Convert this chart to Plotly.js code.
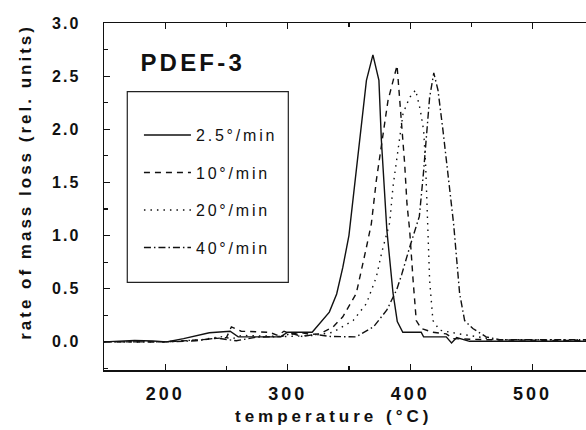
<!DOCTYPE html>
<html>
<head>
<meta charset="utf-8">
<script src="https://cdn.plot.ly/plotly-3.0.1.min.js"></script>
<style>
html,body{margin:0;padding:0;background:#fff;overflow:hidden;}
#chart{width:586px;height:430px;}
.xtick text{letter-spacing:3px;}
.ytick text{letter-spacing:2px;}
.legendtext{letter-spacing:2.8px;}
g.annotation[data-index="0"] text{letter-spacing:3.2px;}
g.annotation[data-index="1"] text{letter-spacing:4px;}
g.annotation[data-index="2"] text{letter-spacing:3px;}
</style>
</head>
<body>
<div id="chart"></div>
<script>
// temperature (°C) and rate of mass loss (rel. units)
const x_2_5 = [150,165,175,190,201,215,236,253,259.6,294,300,320,334,340,345,350,357,364.3,369.6,374.5,376.5,378.6,381,386,389.5,394,409,411,429.5,433.8,438,448.5,550];
const y_2_5 = [0.0,0.005,0.012,0.008,0.0,0.03,0.085,0.10,0.047,0.047,0.09,0.09,0.28,0.45,0.70,1.00,1.72,2.46,2.70,2.46,1.90,1.52,1.05,0.46,0.19,0.09,0.09,0.047,0.047,-0.01,0.04,0.005,0.005];

const x_10 = [150,200,230,250,254,262,285,292,297,303,310,318,326,337,345,356,364.3,368.3,372.4,377.8,381.9,389.3,392.7,395.5,397.4,399.6,402.4,405,409,418.6,429.5,435,462,550];
const y_10 = [0.0,0.0,0.02,0.04,0.14,0.10,0.09,0.06,0.10,0.07,0.09,0.07,0.075,0.14,0.235,0.455,0.89,1.11,1.52,1.93,2.27,2.60,2.12,1.68,1.30,1.05,0.58,0.20,0.125,0.09,0.075,0.03,0.02,0.01];

const x_20 = [150,200,230,245,255,262,300,320.7,337,353.4,364.3,372.4,377,383.3,386,390.1,394.2,399.6,404.5,408.3,411,412.6,414,415.9,418.6,424,440,456.5,470,550];
const y_20 = [0.0,0.0,0.02,0.05,0.03,0.06,0.05,0.06,0.09,0.20,0.36,0.61,0.85,1.12,1.46,1.83,2.15,2.30,2.37,2.18,1.99,1.68,1.11,0.58,0.20,0.11,0.075,0.047,0.02,0.02];

const x_40 = [150,200,225,242,258,275,295,303,312,322,335,356,370,381,389,393,399.6,407.5,410.8,413.1,415.9,419.3,422.7,426.8,430.9,435.5,440.4,444.5,451.2,462,473,550];
const y_40 = [0.0,0.0,0.01,0.035,0.01,0.045,0.05,0.08,0.05,0.07,0.05,0.047,0.14,0.30,0.49,0.63,0.89,1.18,1.58,1.90,2.30,2.53,2.37,1.99,1.58,1.11,0.455,0.20,0.125,0.047,0.02,0.02];

const seriesNames = ['2.5°/min','10°/min','20°/min','40°/min'];
const xTickVals = [200,300,400,500];
const yTickVals = [0.0,0.5,1.0,1.5,2.0,2.5,3.0];

const FONT = 'Liberation Sans, Arial, Helvetica, sans-serif';
const dashes = ['solid','6px,5px','1.5px,5px','7px,3px,1.5px,3px'];
const xs = [x_2_5,x_10,x_20,x_40];
const ys = [y_2_5,y_10,y_20,y_40];

const traces = seriesNames.map((n,i)=>({
  type:'scatter', mode:'lines', name:n, x:xs[i], y:ys[i],
  legendgroup:'g'+i,
  line:{color:'#111', width:1.4, dash:dashes[i]}
}));

const layout = {
  width:586, height:430,
  margin:{l:104, r:0, t:23, b:60},
  paper_bgcolor:'#fff', plot_bgcolor:'#fff',
  showlegend:true,
  legend:{
    x:0.0725, y:0.726, xanchor:'left', yanchor:'top',
    bgcolor:'rgba(0,0,0,0)', borderwidth:0,
    font:{family:FONT, size:16, color:'#111'},
    traceorder:'grouped', tracegroupgap:13.7, itemwidth:47
  },
  xaxis:{
    range:[150,543.6], tickvals:xTickVals, ticktext:xTickVals.map(String),
    ticks:'inside', ticklen:6, tickwidth:1.2, tickcolor:'#111',
    minor:{dtick:50, tick0:0, ticks:'inside', ticklen:4, tickcolor:'#111', showgrid:false},
    showline:true, linecolor:'#111', linewidth:1.5, mirror:'ticks',
    showgrid:false, zeroline:false,
    tickfont:{family:FONT, size:18, color:'#111', weight:'bold'},
    ticklabelstandoff:7
  },
  yaxis:{
    range:[-0.265,3.0], tickvals:yTickVals, ticktext:yTickVals.map(v=>v.toFixed(1)),
    ticks:'inside', ticklen:6, tickwidth:1.2, tickcolor:'#111',
    minor:{dtick:0.25, tick0:0, ticks:'inside', ticklen:4, tickcolor:'#111', showgrid:false},
    showline:true, linecolor:'#111', linewidth:1.5, mirror:false,
    showgrid:false, zeroline:false,
    tickfont:{family:FONT, size:16, color:'#111', weight:'bold'},
    ticklabelstandoff:19
  },
  shapes:[{type:'rect', xref:'paper', yref:'paper', x0:0.0483, x1:0.3824, y0:0.2527, y1:0.802,
    line:{color:'#222', width:1.2}, fillcolor:'rgba(0,0,0,0)'}],
  annotations:[
    {xref:'paper', yref:'paper', x:0.1836, y:0.886, xanchor:'center', yanchor:'middle', showarrow:false,
     text:'PDEF-3', font:{family:FONT, size:24, color:'#111', weight:'bold'}},
    {xref:'paper', yref:'paper', x:0.477, y:-0.1326, xanchor:'center', yanchor:'middle', showarrow:false,
     text:'temperature (°C)', font:{family:FONT, size:17, color:'#111', weight:'bold'}},
    {xref:'paper', yref:'paper', x:-0.162, y:0.542, xanchor:'center', yanchor:'middle', showarrow:false,
     textangle:-90, text:'rate of mass loss (rel. units)', font:{family:FONT, size:17, color:'#111', weight:'bold'}}
  ]
};

Plotly.newPlot('chart', traces, layout, {staticPlot:true, displayModeBar:false});
</script>
</body>
</html>
